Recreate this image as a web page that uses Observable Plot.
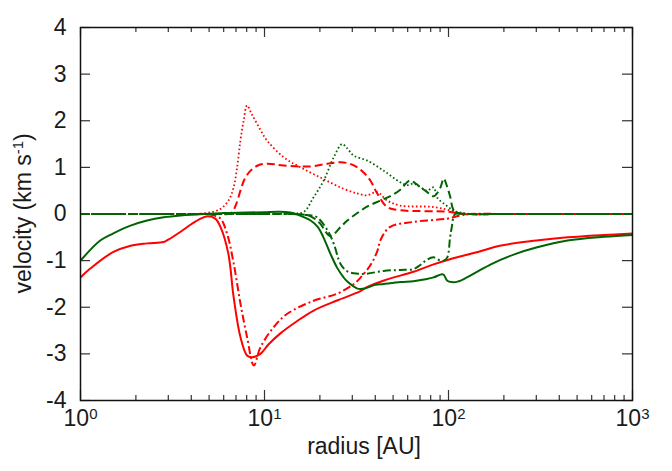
<!DOCTYPE html>
<html>
<head>
<meta charset="utf-8">
<script src="https://cdn.jsdelivr.net/npm/d3@7"></script>
<script src="https://cdn.jsdelivr.net/npm/@observablehq/plot@0.6"></script>
<style>
  html, body { margin: 0; padding: 0; background: #fff; }
</style>
</head>
<body>
<div id="chart"></div>
<script>
// ---- tick values ----
const xMajor = [1, 10, 100, 1000];
const xMinor = [2,3,4,5,6,7,8,9,20,30,40,50,60,70,80,90,200,300,400,500,600,700,800,900];
const yTicks = [-4, -3, -2, -1, 0, 1, 2, 3, 4];
const xExponents = ["0", "1", "2", "3"];

// ---- red series ----
const redSolidR = [1, 1.13, 1.5, 1.87, 2.3, 2.83, 3.0, 3.5, 4.0, 4.5, 4.9, 5.4, 5.77, 6.36, 6.8, 7.4, 8.06, 8.6, 9.5, 10.5, 12.2, 15, 18.5, 25, 33, 36, 45, 64.5, 83, 100, 149, 190, 300, 444, 700, 1000];
const redSolidV = [-1.36, -1.17, -0.82, -0.68, -0.63, -0.6, -0.55, -0.38, -0.22, -0.1, -0.05, -0.1, -0.28, -0.85, -1.79, -2.64, -3.04, -3.07, -3.0, -2.8, -2.56, -2.3, -2.07, -1.85, -1.66, -1.57, -1.42, -1.24, -1.08, -0.98, -0.8, -0.68, -0.57, -0.5, -0.45, -0.42];

const redDashR = [1, 5.5, 6.3, 6.67, 7.0, 7.4, 7.8, 8.4, 9.2, 10.3, 12.7, 17.8, 22, 25.9, 29, 32, 35, 37.6, 41, 46.4, 54.7, 100, 120, 200, 1000];
const redDashV = [0, 0, 0, 0.04, 0.2, 0.5, 0.75, 0.93, 1.04, 1.08, 1.04, 1.02, 1.08, 1.11, 1.08, 1.0, 0.87, 0.72, 0.44, 0.15, 0.08, 0.05, 0, 0, 0];

const redDotR = [1, 3.5, 4.3, 5.0, 5.77, 6.4, 6.8, 7.1, 7.4, 7.7, 8.04, 8.5, 9.1, 10.3, 12.7, 15.7, 20.9, 26.9, 32, 36, 41, 46.4, 54.7, 83, 110, 130, 200, 1000];
const redDotV = [0, 0, 0, 0.03, 0.11, 0.3, 0.58, 1.0, 1.58, 2.0, 2.33, 2.15, 1.94, 1.58, 1.22, 1.0, 0.75, 0.54, 0.44, 0.4, 0.47, 0.29, 0.18, 0.15, 0.05, 0, 0, 0];

const redDashDotR = [1, 4.0, 4.9, 5.3, 5.77, 6.26, 6.8, 7.4, 8.04, 8.75, 9.5, 11.2, 13.3, 18.5, 24.8, 30.6, 33, 37.6, 41, 42.8, 48, 64.5, 98.5, 111, 130, 200, 1000];
const redDashDotV = [0, 0, 0, -0.03, -0.1, -0.42, -1.06, -1.92, -2.64, -3.25, -2.86, -2.43, -2.14, -1.86, -1.71, -1.5, -1.38, -1.1, -0.8, -0.55, -0.28, -0.17, -0.1, -0.05, 0, 0, 0];

// ---- green series ----
const greenSolidR = [1, 1.28, 1.5, 1.87, 2.3, 2.83, 3.5, 4.3, 6, 8, 10, 12, 13.8, 15.5, 17.8, 19.5, 20.9, 22.8, 24.8, 26.9, 28.2, 32, 35, 40, 44.4, 55, 64.5, 75, 83, 90.4, 94, 98.5, 104, 112, 126, 149, 170, 190, 230, 300, 444, 700, 1000];
const greenSolidV = [-1.0, -0.57, -0.42, -0.25, -0.14, -0.07, -0.03, -0.01, 0.02, 0.03, 0.04, 0.05, 0.03, -0.03, -0.14, -0.28, -0.5, -0.85, -1.15, -1.36, -1.45, -1.6, -1.6, -1.52, -1.5, -1.46, -1.44, -1.4, -1.36, -1.3, -1.3, -1.43, -1.46, -1.45, -1.36, -1.2, -1.08, -0.99, -0.86, -0.72, -0.57, -0.49, -0.45];

const greenDashR = [1, 12, 15, 17.8, 20, 22.8, 25.9, 28.2, 33, 37, 42.8, 48, 54.7, 59.6, 62, 66, 70, 76, 83, 90, 94.2, 98, 102, 106, 111, 130, 200, 1000];
const greenDashV = [0, 0, 0, -0.05, -0.2, -0.47, -0.28, -0.14, 0.06, 0.18, 0.29, 0.38, 0.52, 0.68, 0.72, 0.66, 0.58, 0.48, 0.38, 0.55, 0.76, 0.6, 0.38, 0.1, 0.03, 0, 0, 0];

const greenDotR = [1, 10, 12, 14, 16.3, 18.5, 21, 23.8, 26.4, 28, 30.6, 36, 44.4, 54.7, 60, 64.5, 70, 76.5, 83, 86.9, 96, 104, 111, 130, 200, 1000];
const greenDotV = [0, 0, 0, 0.01, 0.04, 0.36, 0.72, 1.22, 1.5, 1.42, 1.25, 1.15, 0.93, 0.68, 0.62, 0.65, 0.58, 0.5, 0.57, 0.35, 0.2, 0.1, 0.04, 0, 0, 0];

const greenDashDotR = [1, 11, 14, 17, 19.3, 22, 23.8, 25.9, 28.2, 32, 36, 44.4, 54.7, 64.5, 70, 76.5, 83, 90.4, 94.2, 98.5, 102, 104, 108.6, 118, 150, 1000];
const greenDashDotV = [0, 0, 0, -0.02, -0.07, -0.35, -0.64, -1.07, -1.23, -1.28, -1.28, -1.22, -1.2, -1.18, -1.1, -0.98, -0.93, -1.0, -1.0, -0.93, -0.5, -0.3, 0, 0, 0, 0];

// ---- labels ----
const xTitle = "radius [AU]";
const yTitleMain = "velocity (km s";
const yTitleSup = "-1";
const yTitleEnd = ")";

const RED = "#ff0000";
const GREEN = "#006400";
const INK = "#1a1a1a";

const zip = (rs, vs) => rs.map((r, i) => ({r, v: vs[i]}));

const W = 552, H = 373; // inner frame size (672-80-40, 471-27-71)

function series(rs, vs, color, dash, width) {
  return Plot.line(zip(rs, vs), {
    x: "r", y: "v", stroke: color, strokeWidth: width,
    strokeDasharray: dash, curve: "catmull-rom", strokeLinecap: "butt"
  });
}

const chart = Plot.plot({
  width: 672,
  height: 471,
  marginLeft: 80,
  marginRight: 40,
  marginTop: 27,
  marginBottom: 71,
  style: {fontFamily: "'Liberation Sans', Arial, Helvetica, sans-serif", fontSize: "23px", color: INK, background: "#fff"},
  x: {type: "log", domain: [1, 1000], axis: null},
  y: {domain: [-4, 4], axis: null},
  marks: [
    // ticks (inward, mirrored)
    Plot.tickX(xMajor, {x: d => d, insetTop: H - 10, stroke: "#333", strokeWidth: 1.2}),
    Plot.tickX(xMajor, {x: d => d, insetBottom: H - 10, stroke: "#333", strokeWidth: 1.2}),
    Plot.tickX(xMinor, {x: d => d, insetTop: H - 5, stroke: "#333", strokeWidth: 1.2}),
    Plot.tickX(xMinor, {x: d => d, insetBottom: H - 5, stroke: "#333", strokeWidth: 1.2}),
    Plot.tickY(yTicks, {y: d => d, insetRight: W - 10, stroke: "#333", strokeWidth: 1.2}),
    Plot.tickY(yTicks, {y: d => d, insetLeft: W - 10, stroke: "#333", strokeWidth: 1.2}),

    // red curves
    series(redSolidR, redSolidV, RED, null, 2),
    series(redDashR, redDashV, RED, "8,4", 2),
    series(redDotR, redDotV, RED, "1.6,2.4", 1.8),
    series(redDashDotR, redDashDotV, RED, "8,3,2,3", 2),
    // green curves
    series(greenSolidR, greenSolidV, GREEN, null, 2),
    series(greenDashR, greenDashV, GREEN, "8,4", 2),
    series(greenDotR, greenDotV, GREEN, "1.6,2.4", 1.8),
    series(greenDashDotR, greenDashDotV, GREEN, "8,3,2,3", 2),

    Plot.frame({stroke: "#111", strokeWidth: 1.5}),

    // y tick labels
    Plot.axisY(yTicks, {anchor: "left", tickSize: 0, tickPadding: 14, fontSize: 23, label: null, tickFormat: d => String(d), fill: INK}),

    // x tick labels: "10" + superscript exponent
    Plot.text(xMajor, {x: d => d, frameAnchor: "bottom", text: () => "10", textAnchor: "end", dx: 8.65, dy: 25.6, fontSize: 23, fill: INK}),
    Plot.text(xMajor, {x: d => d, frameAnchor: "bottom", text: (d, i) => xExponents[i], textAnchor: "start", dx: 8.65, dy: 18.2, fontSize: 15, fill: INK}),

    // x title
    Plot.text([xTitle], {frameAnchor: "bottom", text: d => d, dx: 7.5, dy: 53.3, fontSize: 23, fill: INK}),

    // y title (rotated, with superscript)
    Plot.text([yTitleMain], {frameAnchor: "left", text: d => d, rotate: -90, textAnchor: "start", dx: -56.4, dy: 79.5, fontSize: 23, fill: INK}),
    Plot.text([yTitleSup], {frameAnchor: "left", text: d => d, rotate: -90, textAnchor: "start", dx: -62.8, dy: -59.8, fontSize: 15, fill: INK}),
    Plot.text([yTitleEnd], {frameAnchor: "left", text: d => d, rotate: -90, textAnchor: "start", dx: -56.4, dy: -73.1, fontSize: 23, fill: INK})
  ]
});

document.getElementById("chart").appendChild(chart);
</script>
</body>
</html>
